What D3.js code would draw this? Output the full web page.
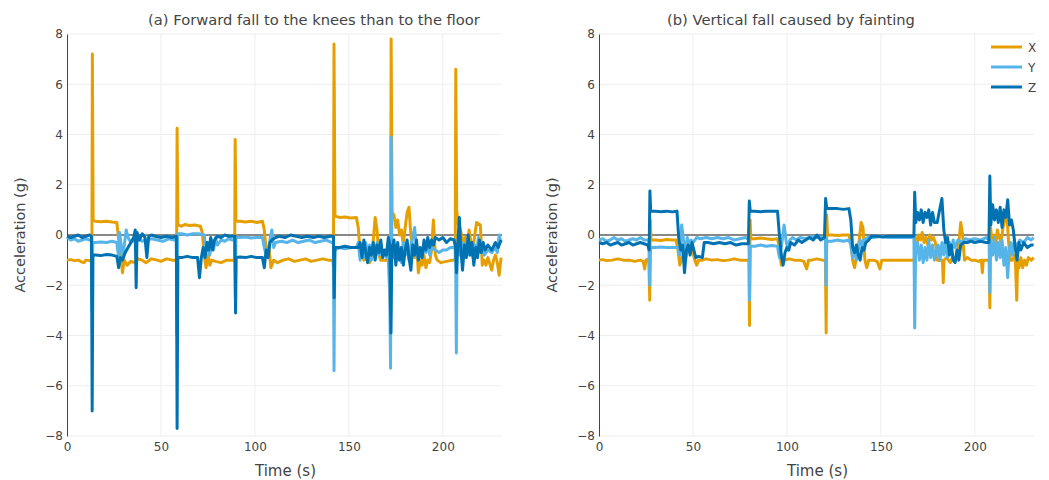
<!DOCTYPE html>
<html><head><meta charset="utf-8">
<script src="https://cdn.jsdelivr.net/npm/d3@7"></script>
<style>body{margin:0;background:#fff}svg{display:block;font-family:"DejaVu Sans",sans-serif}</style>
</head><body><svg id="c" width="1049" height="480"></svg>
<script>
const seriesNames = ["X","Y","Z"];
const seriesColors = ["#E69F00","#56B4E9","#0072B2"];
const panelTitles = ["(a) Forward fall to the knees than to the floor","(b) Vertical fall caused by fainting"];
const xTicks = [0,50,100,150,200];
const yTicks = [-8,-6,-4,-2,0,2,4,6,8];

const aX = [[0,-1.0],[2,-0.98],[4,-1.02],[6,-1.0],[8,-1.08],[9,-1.1],[10,-1.0],[12,-1.02],[13.0,-1.0],[13.2,-2.7],[13.5,7.2],[13.9,0.6],[15,0.55],[18,0.53],[21,0.55],[24,0.52],[26.5,0.5],[27.5,-0.2],[28.5,-0.6],[29.5,-1.5],[30.5,-1.0],[32,-1.2],[34,-1.05],[36,-1.1],[38,-0.95],[40,-1.0],[42,-1.1],[45,-0.95],[48,-1.0],[50,-1.05],[53,-0.95],[56,-1.0],[58,-1.0],[58.3,-1.1],[58.6,4.25],[59,0.4],[61,0.35],[63,0.42],[65,0.38],[68,0.4],[71,0.35],[72,0.1],[73,-0.8],[74,-1.3],[75,-0.8],[76,-1.2],[77,-1.0],[79,-1.05],[82,-1.1],[85,-1.0],[88,-1.0],[89.2,-1.0],[89.5,3.8],[89.9,0.55],[92,0.55],[95,0.52],[98,0.55],[101,0.5],[104,0.55],[105,0.2],[106,-0.6],[107.5,-0.5],[108.5,-1.3],[110,-1.0],[112,-1.1],[115,-1.0],[118,-0.95],[121,-1.05],[124,-1.0],[127,-0.95],[130,-1.05],[133,-1.0],[136,-0.95],[139,-1.0],[141.5,-1.0],[141.8,-1.3],[142.1,7.6],[142.6,0.75],[145,0.7],[148,0.72],[151,0.68],[154,0.7],[155,0.3],[156,-0.7],[157,-0.6],[158,-1.0],[160,-0.9],[161,-1.1],[162,-0.9],[163,-0.2],[164,0.7],[165,0.2],[166,-0.8],[167,-1.0],[169,-1.0],[171,-1.0],[172.2,-3.1],[172.5,7.8],[173,0.9],[174,0.8],[175,0.3],[176,0.6],[177,0.0],[178,0.2],[179,-0.4],[180,0.3],[181,0.9],[182,1.1],[183,0.0],[184,-0.5],[185,-0.9],[186,-0.3],[187,-1.5],[188,-1.0],[189,-1.2],[190,-0.8],[191,-1.3],[192,-1.0],[193,-1.1],[194,-0.6],[195,0.6],[196,-0.8],[197,-1.0],[199,-1.1],[202,-1.05],[205,-1.0],[206.6,-1.0],[206.9,6.6],[207.4,1.0],[208,0.5],[209,0.3],[210,0.0],[211,-0.4],[212,-0.1],[213,-0.5],[214,0.2],[215,-0.3],[216,-0.6],[217,0.0],[218,0.5],[220,0.4],[221,-1.2],[222,-1.0],[223,-1.2],[224,-0.9],[226,-1.4],[227,-1.0],[228,-0.8],[229,-1.1],[230,-1.6],[231,-0.9]];
const aY = [[0,-0.1],[2,-0.2],[4,-0.15],[6,-0.25],[8,-0.2],[10,-0.15],[12,-0.2],[13.0,-0.2],[13.3,-3],[13.7,-0.3],[15,-0.3],[18,-0.28],[21,-0.3],[24,-0.25],[26.5,-0.3],[27.5,-0.9],[28,0.1],[29,-0.5],[29.5,-0.9],[30.5,-0.4],[31.5,0.2],[32.5,-0.1],[34,-0.3],[36,-0.2],[38,-0.15],[40,-0.25],[42,-0.2],[45,-0.15],[48,-0.2],[51,-0.25],[54,-0.15],[57,-0.2],[58.2,-0.2],[58.5,-4],[58.9,0.05],[61,0.05],[64,0.0],[67,0.05],[70,0.05],[73,0.0],[74,-0.7],[75,-0.3],[76,-0.8],[77,-0.2],[78,-0.6],[79,-0.1],[80,-0.4],[82,-0.2],[84,-0.25],[86,-0.15],[88,-0.2],[89.3,-0.2],[89.6,-2.5],[89.9,-0.1],[92,-0.1],[95,-0.08],[98,-0.12],[101,-0.1],[104,-0.1],[105,-0.5],[106,-0.8],[107.5,-0.4],[109,0.2],[110,-0.5],[111,-0.3],[114,-0.25],[117,-0.3],[120,-0.2],[123,-0.3],[126,-0.25],[129,-0.2],[132,-0.3],[135,-0.25],[138,-0.2],[141,-0.3],[141.8,-0.3],[142.1,-5.4],[142.5,-0.6],[145,-0.5],[148,-0.55],[151,-0.5],[154,-0.5],[155,-0.3],[156,-1.0],[157,-0.5],[158,-0.9],[159,-0.3],[160,-0.8],[161,-0.4],[162,-1.0],[163,-0.6],[164,-0.9],[165,-0.3],[166,-0.8],[168,-0.6],[170,-0.9],[171.5,-0.6],[172.2,-5.3],[172.5,3.9],[172.9,-0.5],[174,-0.9],[175,-0.4],[176,-1.0],[177,-0.6],[178,-1.1],[179,-0.3],[180,-0.8],[181,-0.5],[182,-1.0],[183,-0.4],[184,-0.1],[185,0.3],[186,-0.6],[187,-1.0],[188,-0.5],[189,-0.9],[190,-0.4],[191,-0.7],[192,-0.3],[193,-0.8],[194,-0.5],[196,-0.6],[198,-0.7],[200,-0.6],[202,-0.6],[204,-0.5],[206,-0.5],[206.8,-0.6],[207.2,-4.7],[207.6,-0.5],[209,-0.8],[210,-0.3],[211,-0.9],[212,-0.4],[213,-0.2],[214,-0.8],[215,-0.5],[216,-0.9],[217,-0.4],[218,-0.6],[219,-0.1],[220,-0.7],[221,-0.5],[222,-0.8],[224,-0.6],[226,-0.7],[228,-0.5],[229,-0.7],[230,0.0],[231,-0.3]];
const aZ = [[0,-0.05],[2,-0.1],[4,-0.05],[6,0.0],[8,-0.1],[10,-0.05],[12,0.0],[13.0,-0.05],[13.4,-7.0],[13.8,-0.8],[15,-0.8],[18,-0.82],[21,-0.78],[24,-0.8],[26.5,-0.85],[27.5,-1.3],[28.5,-0.9],[29.5,-1.0],[31,-0.7],[32.5,-0.5],[34,-0.3],[35.5,-0.1],[36.3,0.2],[36.8,-2.1],[37.3,0.1],[38.5,-0.2],[40,0.05],[41.5,-0.1],[42.5,-0.9],[43.5,-0.05],[45,0.0],[47,-0.05],[50,-0.1],[53,-0.05],[56,-0.1],[58.2,-0.05],[58.6,-7.7],[59,-0.9],[61,-0.9],[64,-0.85],[67,-0.9],[69.5,-0.9],[70.5,-1.7],[71.5,-0.9],[72.5,-0.5],[73.5,-0.9],[74.5,-0.3],[75.5,-0.6],[76.5,-0.1],[77.5,-0.6],[78.5,-0.2],[80,-0.05],[82,-0.1],[84,0.0],[86,-0.05],[88,-0.05],[89.3,-0.05],[89.7,-3.1],[90,-0.9],[92,-0.88],[95,-0.9],[98,-0.85],[101,-0.9],[104,-0.9],[105,-1.3],[106,-0.6],[107,-0.9],[108,-0.3],[109,-0.2],[111,-0.1],[113,-0.05],[116,-0.1],[119,0.0],[122,-0.05],[125,-0.1],[128,-0.05],[131,-0.1],[134,-0.05],[137,-0.1],[140,-0.05],[141.8,-0.05],[142.2,-2.5],[142.6,-0.5],[145,-0.5],[148,-0.45],[151,-0.5],[154,-0.5],[155,-0.5],[156,-0.3],[157,-0.9],[158,-0.2],[159,-0.7],[160,-1.1],[161,-0.5],[162,-0.8],[163,-0.3],[164,-1.0],[165,-0.4],[166,-0.7],[167,-0.2],[168,-0.9],[169,-0.6],[170,-0.8],[171,-0.1],[171.8,-0.4],[172.4,-3.9],[172.9,-0.6],[174,-0.2],[175,-1.2],[176,-0.3],[177,-1.0],[178,-0.5],[179,-1.2],[180,-0.6],[181,-0.2],[182,-0.9],[183,-1.4],[184,-0.4],[185,-0.8],[186,-0.2],[187,-1.0],[188,-0.5],[189,-0.9],[190,-0.2],[191,-0.6],[192,-0.1],[193,-0.5],[194,-0.2],[195,-0.4],[196,-0.1],[198,-0.2],[200,-0.1],[202,-0.3],[204,-0.15],[206,-0.2],[206.8,-0.5],[207.3,-1.5],[208,-0.3],[208.8,0.7],[209.6,-0.6],[210.5,-1.4],[211.5,-0.4],[212.5,-0.9],[213.5,0.0],[214.5,-0.8],[215.5,-0.3],[216.5,-1.2],[217.5,-0.5],[218.5,-0.9],[219.5,-0.2],[220.5,-0.7],[221.5,-0.3],[222.5,-0.6],[224,-0.4],[226,-0.6],[228,-0.3],[229.5,-0.5],[231,-0.2]];

const bX = [[0,-1.0],[2,-0.98],[4,-1.02],[7,-1.0],[10,-0.95],[13,-1.0],[16,-1.0],[19,-1.05],[22,-1.0],[23.5,-1.05],[24.3,-1.35],[25,-1.0],[26.5,-0.95],[27,-2.6],[27.3,0.6],[27.7,-0.2],[30,-0.2],[33,-0.22],[36,-0.18],[39,-0.2],[41,-0.2],[42,-0.6],[43,-1.2],[44,-0.9],[45,-0.8],[46,-1.0],[47,-0.6],[48,-0.3],[49,-0.4],[50,-0.7],[51,-1.0],[52,-1.2],[53,-1.0],[55,-1.0],[57,-0.95],[60,-1.0],[63,-0.98],[66,-1.02],[69,-1.0],[72,-0.95],[75,-1.0],[78,-1.0],[79.8,-1.0],[80.1,-3.6],[80.4,0.6],[80.8,-0.15],[83,-0.15],[86,-0.12],[89,-0.15],[92,-0.18],[95,-0.15],[96,-0.5],[97,-1.2],[98,-0.9],[99,-1.0],[101,-0.95],[104,-1.0],[107,-1.0],[109,-1.05],[110.5,-1.35],[111.5,-1.0],[113,-1.0],[116,-0.95],[119,-1.0],[120.5,-1.0],[120.9,-3.9],[121.2,0.8],[121.6,0.0],[124,0.0],[127,-0.02],[130,0.0],[133,0.0],[134,-0.3],[135,-1.0],[136,-1.3],[137,-0.9],[138.5,-0.2],[139.5,0.5],[140.5,0.3],[141.5,-1.0],[142.5,-1.3],[143.5,-1.0],[146,-1.0],[148,-1.05],[149.5,-1.35],[150.5,-1.0],[153,-1.0],[156,-1.0],[159,-1.0],[162,-1.0],[165,-1.0],[167.8,-1.0],[168.2,-0.1],[169,-0.4],[170,0.0],[171,-0.2],[172,0.1],[173,-0.3],[174,-0.1],[175,-0.4],[176,0.0],[177,-0.2],[178,-0.1],[179,-0.3],[180,-1.0],[181,-1.0],[182.8,-1.0],[183.2,-1.9],[183.6,-1.0],[185,-0.9],[186,-1.0],[187,-1.1],[188,-0.9],[190,-1.0],[191.5,-0.3],[192.5,0.5],[193.5,0.0],[194.5,-1.0],[196,-0.9],[198,-1.0],[200,-1.0],[202,-1.05],[203.5,-1.0],[204,-1.5],[204.5,-1.0],[206,-1.0],[207.6,-1.0],[208,-2.9],[208.4,0.3],[209,-0.2],[210,0.0],[211,-0.5],[212,0.2],[213,-0.1],[214,-0.3],[215,0.3],[216,0.6],[217,0.9],[218,-0.3],[219,-1.0],[220,-1.0],[221.5,-0.8],[222.3,-2.6],[222.8,-1.0],[223.5,-1.3],[224.5,-0.9],[225.5,-1.3],[226.5,-1.0],[227.5,-1.2],[228.5,-0.9],[230,-1.0],[231.3,-0.9]];
const bY = [[0,-0.2],[2,-0.15],[4,-0.25],[6,-0.2],[8,-0.1],[10,-0.2],[12,-0.15],[14,-0.25],[16,-0.2],[18,-0.15],[20,-0.2],[22,-0.1],[24,-0.2],[26.5,-0.2],[27,-2.0],[27.4,-0.5],[30,-0.5],[33,-0.48],[36,-0.5],[39,-0.5],[42,-0.5],[43,-0.8],[44,0.4],[45,-0.2],[46,-0.7],[47,-0.1],[48,-0.4],[49,-0.2],[50,-0.3],[52,-0.1],[54,-0.15],[57,-0.1],[60,-0.15],[63,-0.1],[66,-0.15],[69,-0.1],[72,-0.2],[75,-0.15],[78,-0.1],[79.8,-0.2],[80.1,-2.6],[80.5,-0.45],[83,-0.45],[86,-0.4],[89,-0.45],[92,-0.42],[95,-0.45],[96,-0.9],[97,-0.5],[98.5,0.4],[99.5,-0.2],[100.5,-0.6],[101.5,-0.2],[103,-0.1],[105,-0.2],[107,-0.1],[110,-0.15],[113,-0.05],[116,-0.1],[119,-0.1],[120.5,-0.1],[120.8,-2.0],[121.2,-0.25],[124,-0.25],[127,-0.2],[130,-0.25],[133,-0.2],[134,-0.4],[135,-0.9],[136,-0.5],[137,-1.0],[138,-0.6],[139,-0.2],[140,-0.4],[141,-0.2],[143,-0.1],[146,-0.1],[150,-0.05],[154,-0.1],[158,-0.1],[162,-0.1],[165,-0.1],[167.6,-0.1],[168,-3.7],[168.5,-0.6],[169.5,-0.3],[170.5,-1.0],[171.5,-0.4],[172.5,-1.1],[173.5,-0.5],[174.5,-1.0],[175.5,-0.2],[176.5,-0.9],[177.5,-0.4],[178.5,-1.0],[179.5,-0.6],[180.5,-0.4],[181.5,-1.0],[182.5,-0.3],[183.5,-0.8],[184.5,-0.1],[185.5,-0.9],[186.5,-0.3],[187.5,-0.7],[188.5,-0.2],[189.5,-0.5],[191,-0.2],[193,-0.3],[195,-0.15],[197,-0.2],[200,-0.15],[203,-0.2],[206,-0.1],[207.6,-0.2],[208,-2.3],[208.4,-0.2],[209.5,-0.8],[210.5,-0.1],[211.5,-1.0],[212.5,-0.3],[213.5,-0.9],[214.5,-0.2],[215.5,-1.2],[216.5,-0.5],[217.5,-1.7],[218.3,-0.6],[219,-0.3],[220,-0.8],[221,-0.2],[222,-0.5],[224,-0.2],[226,-0.3],[228,-0.1],[230,-0.2],[231.3,-0.1]];
const bZ = [[0,-0.3],[2,-0.35],[4,-0.3],[6,-0.4],[8,-0.35],[10,-0.3],[12,-0.4],[14,-0.35],[16,-0.3],[18,-0.4],[20,-0.35],[22,-0.3],[24,-0.35],[26,-0.4],[26.7,-0.6],[27.1,1.75],[27.5,0.95],[30,0.95],[33,0.93],[36,0.95],[39,0.92],[41.5,0.95],[42.5,-0.2],[43.5,-0.6],[44.5,-0.4],[45.5,-1.5],[46.5,-0.6],[47.5,-0.4],[48.5,-0.8],[49.5,-0.3],[50.5,-0.6],[51.5,-0.9],[53,-0.85],[55,-0.9],[56,-0.3],[58,-0.3],[61,-0.35],[64,-0.3],[67,-0.35],[70,-0.3],[73,-0.4],[76,-0.35],[79.5,-0.35],[80,1.35],[80.5,0.95],[83,0.95],[86,0.93],[89,0.95],[92,0.95],[95,0.95],[96,0.0],[97,-0.8],[98,-1.2],[99,-0.7],[100,-0.5],[101,-0.6],[102,-0.3],[104,-0.4],[106,-0.2],[108,-0.3],[110,-0.2],[112,-0.1],[114,-0.2],[116,0.0],[118,-0.2],[120,-0.1],[120.6,1.45],[121.2,1.05],[124,1.05],[127,1.05],[130,1.02],[133,1.05],[134,0.6],[135,-0.5],[136,-0.7],[137,-0.4],[138,-0.8],[139,-1.0],[140,-0.5],[141,-0.6],[142,-0.3],[143.5,-0.2],[145,-0.05],[148,-0.05],[151,-0.08],[154,-0.05],[157,-0.05],[160,-0.05],[163,-0.05],[166,-0.05],[167.6,-0.05],[168,1.7],[168.6,0.5],[169.5,0.9],[170.5,0.6],[171.5,1.0],[172.5,0.5],[173.5,0.9],[174.5,0.7],[175.5,1.0],[176.5,0.4],[177.5,0.9],[178.5,0.5],[180,0.5],[181,0.9],[182.5,1.45],[183.5,0.2],[184.5,-0.3],[185.5,-0.1],[186.5,-0.8],[187.5,-0.4],[188.5,-1.0],[189.5,-1.1],[190.5,-0.6],[191.5,-1.0],[192.5,-0.4],[194,-0.3],[196,-0.3],[198,-0.25],[200,-0.3],[203,-0.25],[206,-0.3],[207.5,-0.3],[208,2.35],[208.5,0.4],[209.5,1.2],[210.5,0.6],[211.5,1.0],[212.5,0.5],[213.5,1.1],[214.5,0.3],[215.5,1.0],[216.5,0.7],[217.5,1.4],[218.5,0.4],[219.5,0.6],[220.5,0.2],[221.5,-0.5],[222.5,-1.0],[223.5,-0.3],[224.5,-0.6],[226,-0.3],[228,-0.5],[230,-0.4],[231.3,-0.4]];

const panels = [
  {title: panelTitles[0], series: [aX, aY, aZ], x0: 67, x1: 502, titleX: 314},
  {title: panelTitles[1], series: [bX, bY, bZ], x0: 599, x1: 1034, titleX: 791}
];

const svg = d3.select("#c");
const yTop = 34, yBot = 436;
const y = d3.scaleLinear().domain([-8, 8]).range([yBot, yTop]);
const fmt = d => (d < 0 ? "\u2212" + Math.abs(d) : String(d));

panels.forEach((p, pi) => {
  const x = d3.scaleLinear().domain([0, 231.5]).range([p.x0, p.x1]);
  const g = svg.append("g");
  g.append("g").selectAll("line").data(yTicks.filter(d => d !== 0)).join("line")
    .attr("x1", p.x0).attr("x2", p.x1).attr("y1", d => y(d)).attr("y2", d => y(d))
    .attr("stroke", "#eee").attr("stroke-width", 1);
  g.append("g").selectAll("line").data(xTicks.filter(d => d !== 0)).join("line")
    .attr("x1", d => x(d)).attr("x2", d => x(d)).attr("y1", yTop).attr("y2", yBot)
    .attr("stroke", "#eee").attr("stroke-width", 1);
  g.append("line").attr("x1", p.x0).attr("x2", p.x1).attr("y1", y(0)).attr("y2", y(0))
    .attr("stroke", "#888").attr("stroke-width", 2);
  const yAxis = d3.axisLeft(y).tickValues(yTicks).tickFormat(fmt).tickSize(0).tickPadding(4);
  const ya = g.append("g").attr("transform", `translate(${p.x0},0)`).call(yAxis);
  ya.select(".domain").attr("stroke", "#444").attr("stroke-width", 1);
  ya.selectAll("text").attr("fill", "#444").style("font-size", "12px").style("font-family", "DejaVu Sans");
  const xAxis = d3.axisBottom(x).tickValues(xTicks).tickSize(0).tickPadding(6);
  const xa = g.append("g").attr("transform", `translate(0,${yBot})`).call(xAxis);
  xa.select(".domain").remove();
  xa.selectAll("text").attr("fill", "#444").style("font-size", "12px").style("font-family", "DejaVu Sans");
  const line = d3.line().x(d => x(d[0])).y(d => y(d[1]));
  p.series.forEach((s, si) => {
    g.append("path").datum(s).attr("d", line).attr("fill", "none")
      .attr("stroke", seriesColors[si]).attr("stroke-width", 3).attr("stroke-linejoin", "round");
  });
  g.append("text").attr("x", p.titleX).attr("y", 25).attr("text-anchor", "middle")
    .attr("fill", "#444").style("font-size", "14.7px").text(p.title);
  g.append("text").attr("x", (p.x0 + p.x1) / 2 + 1).attr("y", 476).attr("text-anchor", "middle")
    .attr("fill", "#444").style("font-size", "15px").text("Time (s)");
  g.append("text").attr("transform", `translate(${p.x0 - 42},${y(0)}) rotate(-90)`)
    .attr("text-anchor", "middle").attr("fill", "#444").style("font-size", "14.5px").text("Acceleration (g)");
});

const lg = svg.append("g");
seriesNames.forEach((n, i) => {
  const yy = 47 + i * 20;
  lg.append("line").attr("x1", 991).attr("x2", 1022).attr("y1", yy).attr("y2", yy)
    .attr("stroke", seriesColors[i]).attr("stroke-width", 3);
  lg.append("text").attr("x", 1028).attr("y", yy + 4.5).attr("fill", "#444")
    .style("font-size", "12px").text(n);
});
</script></body></html>
